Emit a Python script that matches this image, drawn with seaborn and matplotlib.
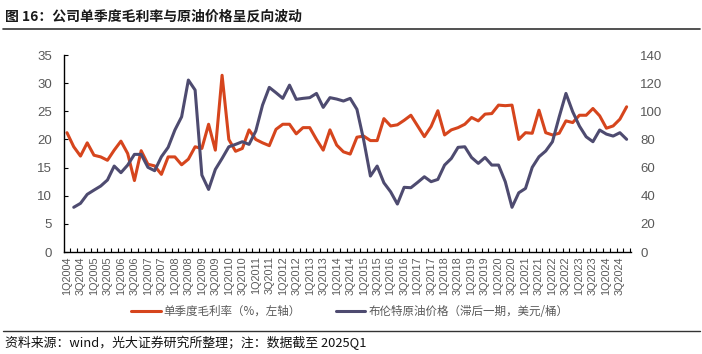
import numpy as np
import pandas as pd
import matplotlib
matplotlib.use("Agg")
import matplotlib.pyplot as plt
from matplotlib.lines import Line2D
import seaborn as sns

quarters = [f"{q}Q{y}" for y in range(2004, 2025) for q in range(1, 5)]

gross_margin = [21.2, 18.7, 17.05, 19.4, 17.2, 16.9, 16.3, 18.1, 19.7, 17.5,
                12.7, 18.0, 15.6, 15.3, 13.8, 16.9, 16.9, 15.5, 16.5, 18.7,
                18.4, 22.7, 18.1, 31.4, 20.0, 17.9, 18.4, 21.7, 20.0, 19.4,
                18.9, 21.8, 22.7, 22.7, 21.0, 22.1, 22.1, 20.0, 18.1, 21.7,
                19.0, 17.8, 17.4, 20.4, 20.6, 19.8, 19.8, 23.7, 22.4, 22.6,
                23.4, 24.3, 22.4, 20.5, 22.3, 25.1, 20.8, 21.7, 22.1, 22.7,
                23.9, 23.3, 24.5, 24.6, 26.1, 26.0, 26.1, 20.0, 21.2, 21.1,
                25.2, 21.2, 20.8, 21.1, 23.3, 23.0, 24.3, 24.3, 25.5, 24.2,
                22.0, 22.4, 23.6, 25.8]

brent_lag = [np.nan, 31.8, 34.6, 41.0, 44.0, 46.9, 51.2, 61.1, 56.4, 61.8,
             69.4, 69.4, 60.2, 57.8, 67.7, 74.4, 86.7, 96.1, 122.2, 115.1,
             54.7, 44.5, 58.7, 66.5, 74.8, 76.5, 78.4, 76.5, 86.0, 104.4,
             117.0, 113.2, 109.2, 118.6, 108.5, 109.2, 109.7, 112.7, 102.8, 109.7,
             108.7, 107.3, 109.2, 101.4, 79.6, 54.0, 61.1, 49.2, 42.8, 34.1,
             46.0, 45.7, 49.5, 53.5, 50.0, 51.6, 61.8, 66.5, 74.4, 74.8,
             67.2, 63.0, 67.2, 61.8, 61.8, 50.0, 31.8, 42.1, 45.2, 60.2,
             67.7, 71.8, 78.4, 96.1, 112.7, 99.7, 89.5, 81.9, 78.4, 86.7,
             83.8, 82.4, 84.8, 80.1]

label_margin = "单季度毛利率（%，左轴）"
label_brent = "布伦特原油价格（滞后一期，美元/桶）"
title = "图 16：公司单季度毛利率与原油价格呈反向波动"
source = "资料来源：wind，光大证券研究所整理；注：数据截至 2025Q1"

df = pd.DataFrame({"idx": np.arange(len(quarters)), "quarter": quarters,
                   "margin": gross_margin, "brent": brent_lag})

sns.set_style("white")
plt.rcParams['font.family'] = ['Noto Sans CJK SC', 'DejaVu Sans']

RED = "#D6451D"
BLUE = "#4E4B70"
TXT = "#595959"
NUMFONT = ['Liberation Sans', 'DejaVu Sans']

fig = plt.figure(figsize=(7.02, 3.54), dpi=100)
ax = fig.add_axes([0.0916, 0.288, 0.8068, 0.5566])
ax2 = ax.twinx()

sns.lineplot(data=df, x="idx", y="margin", ax=ax, color=RED, lw=2.2, legend=False)
sns.lineplot(data=df.dropna(), x="idx", y="brent", ax=ax2, color=BLUE, lw=2.2, legend=False)

ax.set_xlim(-0.4, 83.6)
ax.set_ylim(0, 35)
ax2.set_ylim(0, 140)
ax.set_yticks(range(0, 36, 5))
ax2.set_yticks(range(0, 141, 20))
ax.set_xticks(df["idx"][::2])
ax.set_xticklabels(df["quarter"][::2], rotation=90)
ax.set_xticks(np.arange(len(quarters)) + 0.5, minor=True)
ax.set_xlabel("")
ax.set_ylabel("")
ax2.set_ylabel("")

for s in ["top", "right"]:
    ax.spines[s].set_visible(False)
for s in ["top", "right", "left", "bottom"]:
    ax2.spines[s].set_visible(False)
ax.spines["left"].set_color("#000000")
ax.spines["bottom"].set_color("#000000")
ax.spines["left"].set_linewidth(1.0)
ax.spines["bottom"].set_linewidth(1.0)

ax.tick_params(axis="x", which="major", length=0, pad=3, labelsize=7.8, labelcolor=TXT)
ax.tick_params(axis="x", which="minor", length=3, direction="in", width=0.8, color="#000000", bottom=True)
ax.tick_params(axis="y", length=3, direction="in", width=0.8, color="#000000", pad=9,
               labelsize=9.5, labelcolor=TXT, left=True)
ax2.tick_params(axis="y", length=0, pad=7, labelsize=9.5, labelcolor=TXT)
for lab in ax.get_xticklabels() + ax.get_yticklabels() + ax2.get_yticklabels():
    lab.set_family(NUMFONT)
ax.grid(False)
ax2.grid(False)

fig.text(0.007, 0.953, title, fontsize=10, fontweight="bold", va="center", ha="left", color="#1a1a1a")
fig.add_artist(Line2D([0.004, 0.997], [0.917, 0.917], color="#333333", lw=1.2))
fig.add_artist(Line2D([0.004, 0.997], [0.065, 0.065], color="#333333", lw=1.0))
fig.text(0.007, 0.031, source, fontsize=9.3, va="center", ha="left", color="#111111")

handles = [Line2D([], [], color=RED, lw=2.2), Line2D([], [], color=BLUE, lw=2.2)]
fig.legend(handles, [label_margin, label_brent], loc="center", bbox_to_anchor=(0.498, 0.121),
           ncol=2, frameon=False, fontsize=8.3, handlelength=2.6, handletextpad=0.25,
           columnspacing=3.0, labelcolor=TXT)

fig.savefig("out.png", dpi=100)
